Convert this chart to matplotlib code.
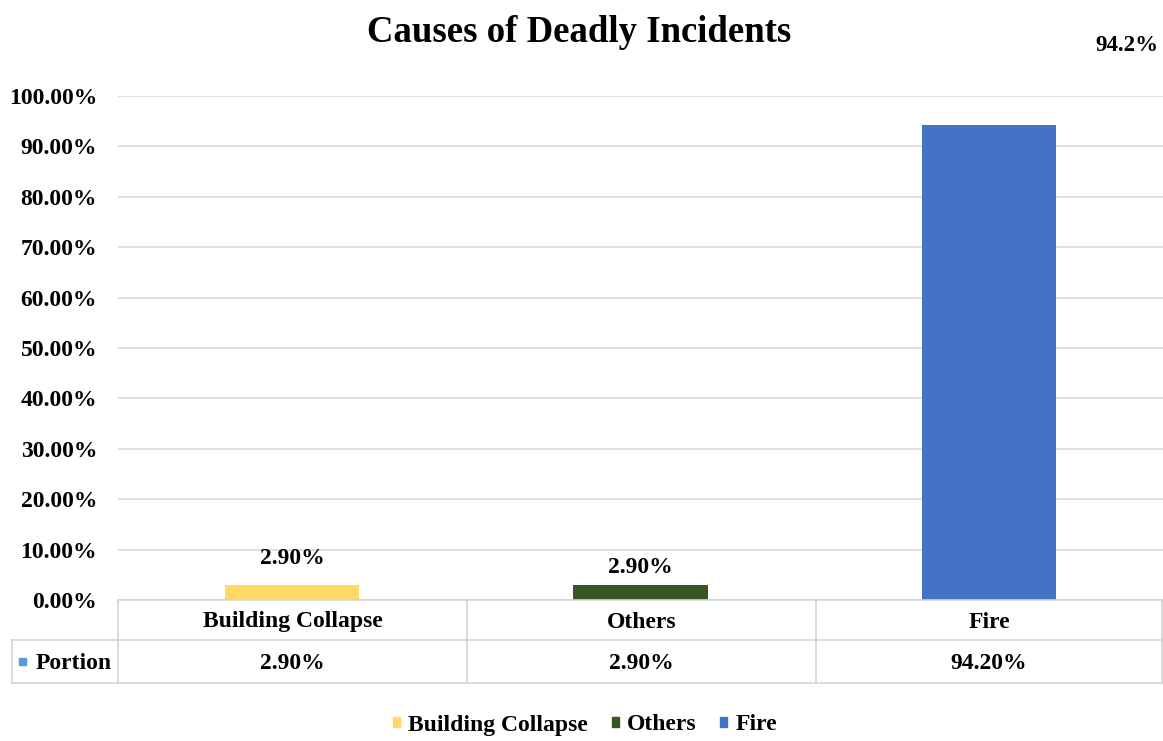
import matplotlib
matplotlib.use("Agg")
import matplotlib.pyplot as plt
from matplotlib.patches import Patch, Rectangle
from matplotlib.ticker import PercentFormatter, MultipleLocator
from matplotlib.lines import Line2D

categories = ["Building Collapse", "Others", "Fire"]
portion = [0.029, 0.029, 0.942]
colors = ["#FFD966", "#375623", "#4472C4"]
series_name = "Portion"
title = "Causes of Deadly Incidents"

plt.rcParams["font.family"] = ["Liberation Serif", "DejaVu Serif"]
plt.rcParams["font.weight"] = "bold"

W, H = 1163, 741
fig = plt.figure(figsize=(W / 100, H / 100), dpi=100)

def fx(px):
    return px / W

def fy(py):
    return 1 - py / H

left, right, top, bottom = 118, 1163, 96, 600
ax = fig.add_axes([fx(left), fy(bottom), fx(right) - fx(left), fy(top) - fy(bottom)])

x = list(range(len(categories)))
ax.bar(x, portion, width=0.385, color=colors, zorder=3)
ax.set_xlim(-0.5, len(categories) - 0.5)
ax.set_ylim(0, 1.0)
ax.yaxis.set_major_locator(MultipleLocator(0.1))
ax.yaxis.set_major_formatter(PercentFormatter(1.0, decimals=2))
ax.grid(axis="y", color="#D9D9D9", linewidth=1.2, zorder=0)
ax.tick_params(axis="y", length=0, pad=15, labelsize=17)
ax.set_xticks([])
for s in ax.spines.values():
    s.set_visible(False)
for lbl in ax.get_yticklabels():
    lbl.set_fontweight("bold")

# value labels above the bars
label_offsets = [(0, 27), (0, 18)]
for i in range(2):
    ax.annotate(f"{portion[i] * 100:.2f}%", xy=(x[i], portion[i]),
                xytext=label_offsets[i], textcoords="offset pixels",
                ha="center", va="center", fontsize=17, fontweight="bold")
ax.annotate(f"{portion[2] * 100:.1f}%", xy=(x[2], portion[2]),
            xytext=(138, 80), textcoords="offset pixels",
            ha="center", va="center", fontsize=16.5, fontweight="bold",
            annotation_clip=False)

fig.text(fx(579), fy(32), title, ha="center", va="center",
         fontsize=26.5, fontweight="bold")

# data table below the axis
grid_c = "#D4D4D4"
row1, row2, row3 = 600, 640, 683
tab_left = 12
col_edges = [118, 467, 816, 1162]

def hline(y, x0, x1):
    fig.add_artist(Line2D([fx(x0), fx(x1)], [fy(y), fy(y)], color=grid_c, lw=1.2))

def vline(xp, y0, y1):
    fig.add_artist(Line2D([fx(xp), fx(xp)], [fy(y0), fy(y1)], color=grid_c, lw=1.2))

hline(row1, col_edges[0], col_edges[-1])
hline(row2, tab_left, col_edges[-1])
hline(row3, tab_left, col_edges[-1])
vline(tab_left, row2, row3)
for xe in col_edges:
    vline(xe, row1, row3)

for i, cat in enumerate(categories):
    cx = (col_edges[i] + col_edges[i + 1]) / 2
    fig.text(fx(cx), fy((row1 + row2) / 2 + 2), cat, ha="center", va="center",
             fontsize=17, fontweight="bold")
    fig.text(fx(cx), fy((row2 + row3) / 2 + 2), f"{portion[i] * 100:.2f}%",
             ha="center", va="center", fontsize=17, fontweight="bold")

fig.add_artist(Rectangle((fx(19), fy(665)), fx(7), 7 / H, color="#5B9BD5",
                         transform=fig.transFigure))
fig.text(fx(36), fy((row2 + row3) / 2 + 2), series_name, ha="left", va="center",
         fontsize=17, fontweight="bold")

handles = [Patch(color=c, label=n) for c, n in zip(colors, categories)]
fig.legend(handles=handles, loc="center", bbox_to_anchor=(fx(585), fy(725)),
           ncol=3, frameon=False, handlelength=0.3, handleheight=0.3,
           handletextpad=0.35, columnspacing=1.0, prop={"weight": "bold", "size": 17})

fig.savefig("out.png", dpi=100)
